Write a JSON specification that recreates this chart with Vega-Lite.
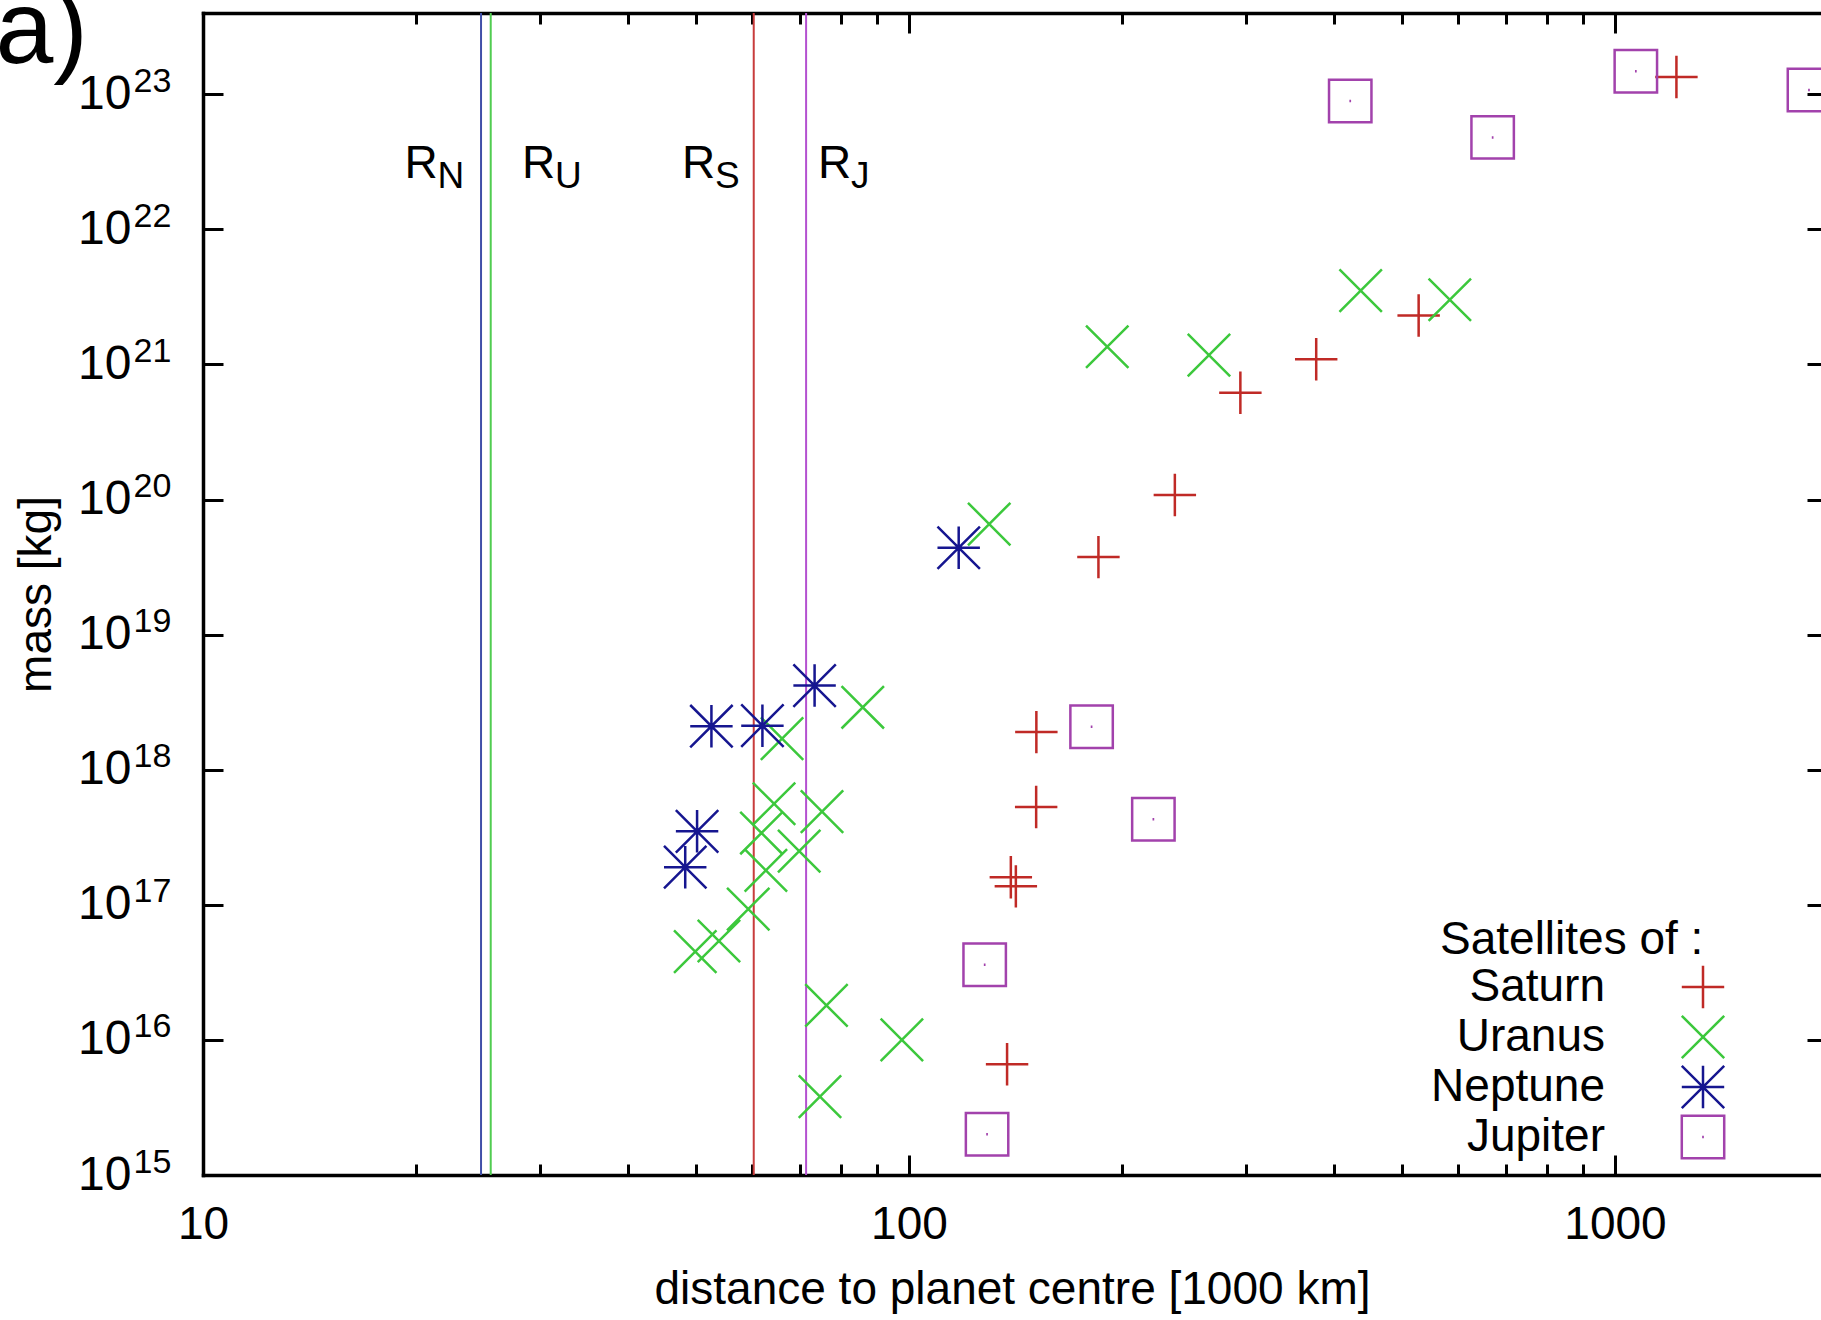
{
  "$schema": "https://vega.github.io/schema/vega-lite/v6.json",
  "width": 1618,
  "height": 1162,
  "autosize": {"type": "none"},
  "padding": {"left": 203, "top": 13, "right": 0, "bottom": 145},
  "background": "white",
  "config": {
    "font": "Liberation Sans",
    "view": {"stroke": null},
    "axis": {
      "grid": false,
      "labelFontSize": 46,
      "labelColor": "black",
      "titleFontSize": 46,
      "titleFontWeight": "normal",
      "titleColor": "black",
      "domainColor": "black",
      "tickColor": "black",
      "domainWidth": 3.5,
      "tickWidth": 3,
      "labelFlush": false,
      "labelOverlap": false,
      "labelBound": false
    },
    "legend": {
      "orient": "none",
      "legendX": 1237,
      "legendY": 905,
      "direction": "vertical",
      "padding": 0,
      "titleFontSize": 46,
      "titleFontWeight": "normal",
      "titleColor": "black",
      "titleLimit": 600,
      "titleAnchor": "start",
      "titleAlign": "left",
      "titleBaseline": "top",
      "titlePadding": 0,
      "labelFontSize": 46,
      "labelColor": "black",
      "labelLimit": 600,
      "labelAlign": "right",
      "labelOffset": -121,
      "symbolOffset": 240,
      "symbolSize": 1800,
      "symbolStrokeWidth": 2.5,
      "rowPadding": -6
    }
  },
  "datasets": {
    "satellites": [
      {"planet": "Saturn", "name": "Titan", "distance": 1221.9, "mass": 1.345e23},
      {"planet": "Saturn", "name": "Rhea", "distance": 527.1, "mass": 2.307e21},
      {"planet": "Saturn", "name": "Dione", "distance": 377.4, "mass": 1.095e21},
      {"planet": "Saturn", "name": "Tethys", "distance": 294.7, "mass": 6.17e20},
      {"planet": "Saturn", "name": "Enceladus", "distance": 238.0, "mass": 1.08e20},
      {"planet": "Saturn", "name": "Mimas", "distance": 185.5, "mass": 3.75e19},
      {"planet": "Saturn", "name": "Janus", "distance": 151.5, "mass": 1.9e18},
      {"planet": "Saturn", "name": "Epimetheus", "distance": 151.4, "mass": 5.3e17},
      {"planet": "Saturn", "name": "Pandora", "distance": 141.7, "mass": 1.37e17},
      {"planet": "Saturn", "name": "Prometheus", "distance": 139.4, "mass": 1.6e17},
      {"planet": "Saturn", "name": "Atlas", "distance": 137.7, "mass": 6.6e15},
      {"planet": "Uranus", "name": "Titania", "distance": 436.3, "mass": 3.527e21},
      {"planet": "Uranus", "name": "Oberon", "distance": 583.5, "mass": 3.014e21},
      {"planet": "Uranus", "name": "Umbriel", "distance": 266.0, "mass": 1.172e21},
      {"planet": "Uranus", "name": "Ariel", "distance": 190.9, "mass": 1.353e21},
      {"planet": "Uranus", "name": "Miranda", "distance": 129.9, "mass": 6.59e19},
      {"planet": "Uranus", "name": "Puck", "distance": 86.0, "mass": 2.9e18},
      {"planet": "Uranus", "name": "Mab", "distance": 97.7, "mass": 1.0e16},
      {"planet": "Uranus", "name": "Belinda", "distance": 75.3, "mass": 4.9e17},
      {"planet": "Uranus", "name": "Perdita", "distance": 76.4, "mass": 1.8e16},
      {"planet": "Uranus", "name": "Cupid", "distance": 74.8, "mass": 3.8e15},
      {"planet": "Uranus", "name": "Rosalind", "distance": 69.9, "mass": 2.5e17},
      {"planet": "Uranus", "name": "Portia", "distance": 66.1, "mass": 1.7e18},
      {"planet": "Uranus", "name": "Juliet", "distance": 64.4, "mass": 5.6e17},
      {"planet": "Uranus", "name": "Desdemona", "distance": 62.7, "mass": 1.8e17},
      {"planet": "Uranus", "name": "Cressida", "distance": 61.8, "mass": 3.4e17},
      {"planet": "Uranus", "name": "Bianca", "distance": 59.2, "mass": 9.3e16},
      {"planet": "Uranus", "name": "Ophelia", "distance": 53.8, "mass": 5.4e16},
      {"planet": "Uranus", "name": "Cordelia", "distance": 49.8, "mass": 4.5e16},
      {"planet": "Neptune", "name": "Proteus", "distance": 117.6, "mass": 4.4e19},
      {"planet": "Neptune", "name": "Larissa", "distance": 73.5, "mass": 4.2e18},
      {"planet": "Neptune", "name": "Galatea", "distance": 62.0, "mass": 2.12e18},
      {"planet": "Neptune", "name": "Despina", "distance": 52.5, "mass": 2.1e18},
      {"planet": "Neptune", "name": "Thalassa", "distance": 50.1, "mass": 3.5e17},
      {"planet": "Neptune", "name": "Naiad", "distance": 48.2, "mass": 1.9e17},
      {"planet": "Jupiter", "name": "Io", "distance": 421.7, "mass": 8.93e22},
      {"planet": "Jupiter", "name": "Europa", "distance": 671.0, "mass": 4.8e22},
      {"planet": "Jupiter", "name": "Ganymede", "distance": 1070.4, "mass": 1.48e23},
      {"planet": "Jupiter", "name": "Callisto", "distance": 1882.7, "mass": 1.076e23},
      {"planet": "Jupiter", "name": "Amalthea", "distance": 181.4, "mass": 2.08e18},
      {"planet": "Jupiter", "name": "Thebe", "distance": 221.9, "mass": 4.3e17},
      {"planet": "Jupiter", "name": "Adrastea", "distance": 129.0, "mass": 2.0e15},
      {"planet": "Jupiter", "name": "Metis", "distance": 128.0, "mass": 3.6e16}
    ],
    "radii": [
      {"planet": "Neptune", "sub": "N", "radius": 24.764, "label_x": 19.3},
      {"planet": "Uranus", "sub": "U", "radius": 25.559, "label_x": 28.3},
      {"planet": "Saturn", "sub": "S", "radius": 60.268, "label_x": 47.7},
      {"planet": "Jupiter", "sub": "J", "radius": 71.492, "label_x": 74.3}
    ]
  },
  "resolve": {"axis": {"x": "independent", "y": "independent"}},
  "layer": [
    {
      "data": {"name": "radii"},
      "mark": {"type": "rule", "strokeWidth": 2},
      "encoding": {
        "x": {"field": "radius", "type": "quantitative", "scale": {"type": "log", "domain": [10, 1958], "nice": false}, "axis": null},
        "stroke": {"field": "planet", "type": "nominal", "scale": {"domain": ["Neptune", "Uranus", "Saturn", "Jupiter"], "range": ["#4050a8", "#50cc50", "#c83c3c", "#b450d0"]}, "legend": null}
      }
    },
    {
      "data": {"name": "radii"},
      "mark": {"type": "text", "text": "R", "fontSize": 46, "align": "left", "baseline": "alphabetic", "color": "black"},
      "encoding": {
        "x": {"field": "label_x", "type": "quantitative", "scale": {"type": "log", "domain": [10, 1958], "nice": false}, "axis": null},
        "y": {"datum": 2.4e22, "type": "quantitative", "scale": {"type": "log", "domain": [1e15, 4e23], "nice": false}, "axis": null}
      }
    },
    {
      "data": {"name": "radii"},
      "mark": {"type": "text", "fontSize": 37, "align": "left", "baseline": "alphabetic", "dx": 33, "dy": 10, "color": "black"},
      "encoding": {
        "text": {"field": "sub", "type": "nominal"},
        "x": {"field": "label_x", "type": "quantitative", "scale": {"type": "log", "domain": [10, 1958], "nice": false}, "axis": null},
        "y": {"datum": 2.4e22, "type": "quantitative", "scale": {"type": "log", "domain": [1e15, 4e23], "nice": false}, "axis": null}
      }
    },
    {
      "data": {"name": "satellites"},
      "mark": {"type": "point", "filled": false, "size": 1800, "strokeWidth": 2.5, "opacity": 1},
      "encoding": {
        "x": {
          "field": "distance", "type": "quantitative",
          "scale": {"type": "log", "domain": [10, 1958], "nice": false},
          "axis": {"orient": "bottom", "values": [10, 100, 1000], "format": "d", "ticks": false, "tickSize": 0, "domain": true, "labelPadding": 63, "labelBaseline": "alphabetic", "title": "distance to planet centre [1000 km]", "titleY": 128, "titleBaseline": "alphabetic", "domainCap": "square"}
        },
        "y": {
          "field": "mass", "type": "quantitative",
          "scale": {"type": "log", "domain": [1e15, 4e23], "nice": false},
          "axis": {"orient": "left", "values": [1e15, 1e16, 1e17, 1e18, 1e19, 1e20, 1e21, 1e22, 1e23], "ticks": false, "tickSize": 0, "domain": true, "labelExpr": "'10'", "labelFontSize": 48, "labelAlign": "right", "labelBaseline": "middle", "labelPadding": 72, "title": "mass [kg]", "titleX": -153, "titleBaseline": "alphabetic", "titleAngle": -90, "domainCap": "square"}
        },
        "color": {
          "field": "planet", "type": "nominal",
          "scale": {"domain": ["Saturn", "Uranus", "Neptune", "Jupiter"], "range": ["#c02a26", "#3cc83c", "#161690", "#a242ac"]},
          "legend": {"title": "Satellites of :"}
        },
        "shape": {
          "field": "planet", "type": "nominal",
          "scale": {"domain": ["Saturn", "Uranus", "Neptune", "Jupiter"], "range": ["M-1,0L1,0M0,-1L0,1", "M-1,-1L1,1M-1,1L1,-1", "M-1,0L1,0M0,-1L0,1M-1,-1L1,1M-1,1L1,-1", "M-1,-1L1,-1L1,1L-1,1Z M-0.04,0L0.04,0"]},
          "legend": {"title": "Satellites of :"}
        }
      }
    },
    {
      "data": {"name": "satellites"},
      "mark": {"type": "point", "opacity": 0},
      "encoding": {
        "x": {
          "field": "distance", "type": "quantitative",
          "scale": {"type": "log", "domain": [10, 1958], "nice": false},
          "axis": {"orient": "bottom", "values": [10, 100, 1000], "labels": false, "ticks": true, "tickSize": -20, "domain": false, "title": null}
        },
        "y": {
          "field": "mass", "type": "quantitative",
          "scale": {"type": "log", "domain": [1e15, 4e23], "nice": false},
          "axis": {"orient": "left", "values": [1e15, 1e16, 1e17, 1e18, 1e19, 1e20, 1e21, 1e22, 1e23], "ticks": false, "tickSize": 0, "domain": false, "labelExpr": "format(round(log(datum.value)/LN10),'d')", "labelFontSize": 34, "labelAlign": "left", "labelBaseline": "alphabetic", "labelPadding": 70, "labelOffset": -3, "title": null}
        }
      }
    },
    {
      "data": {"name": "satellites"},
      "mark": {"type": "point", "opacity": 0},
      "encoding": {
        "x": {
          "field": "distance", "type": "quantitative",
          "scale": {"type": "log", "domain": [10, 1958], "nice": false},
          "axis": {"orient": "bottom", "values": [20, 30, 40, 50, 60, 70, 80, 90, 200, 300, 400, 500, 600, 700, 800, 900], "labels": false, "ticks": true, "tickSize": -11, "domain": false, "title": null}
        },
        "y": {
          "field": "mass", "type": "quantitative",
          "scale": {"type": "log", "domain": [1e15, 4e23], "nice": false},
          "axis": {"orient": "left", "values": [1e15, 1e16, 1e17, 1e18, 1e19, 1e20, 1e21, 1e22, 1e23], "labels": false, "ticks": true, "tickSize": -20, "domain": false, "title": null}
        }
      }
    },
    {
      "data": {"name": "satellites"},
      "mark": {"type": "point", "opacity": 0},
      "encoding": {
        "x": {
          "field": "distance", "type": "quantitative",
          "scale": {"type": "log", "domain": [10, 1958], "nice": false},
          "axis": {"orient": "top", "values": [10, 100, 1000], "labels": false, "ticks": true, "tickSize": -20, "domain": true, "domainCap": "square", "title": null}
        },
        "y": {
          "field": "mass", "type": "quantitative",
          "scale": {"type": "log", "domain": [1e15, 4e23], "nice": false},
          "axis": {"orient": "right", "values": [1e15, 1e16, 1e17, 1e18, 1e19, 1e20, 1e21, 1e22, 1e23], "labels": false, "ticks": true, "tickSize": -14, "domain": false, "title": null}
        }
      }
    },
    {
      "data": {"name": "satellites"},
      "mark": {"type": "point", "opacity": 0},
      "encoding": {
        "x": {
          "field": "distance", "type": "quantitative",
          "scale": {"type": "log", "domain": [10, 1958], "nice": false},
          "axis": {"orient": "top", "values": [20, 30, 40, 50, 60, 70, 80, 90, 200, 300, 400, 500, 600, 700, 800, 900], "labels": false, "ticks": true, "tickSize": -11, "domain": false, "title": null}
        },
        "y": {
          "field": "mass", "type": "quantitative",
          "scale": {"type": "log", "domain": [1e15, 4e23], "nice": false},
          "axis": {"orient": "left", "labels": false, "ticks": false, "domain": false, "title": "a)", "titleFontSize": 104, "titleFontWeight": "normal", "titleAngle": 0, "titleAlign": "left", "titleBaseline": "alphabetic", "titleX": -208, "titleY": 49}
        }
      }
    }
  ]
}
